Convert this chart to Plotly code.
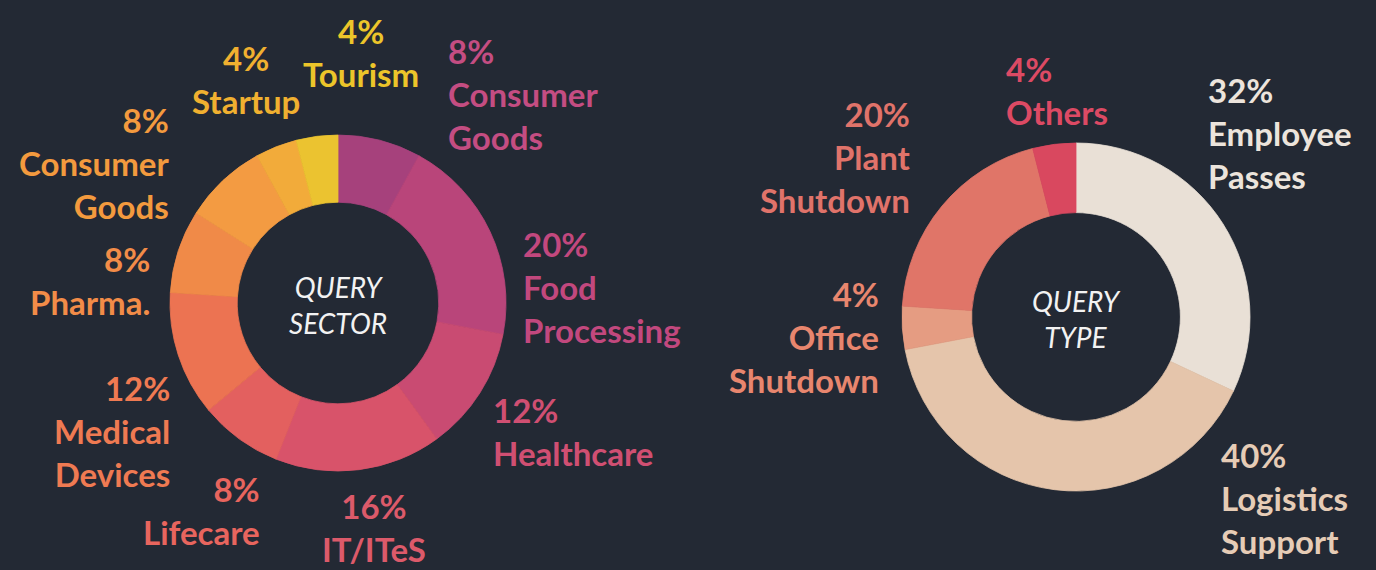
import math
import plotly.graph_objects as go

# ---------------- data ----------------
sector_labels = ["Consumer<br>Goods", "Food<br>Processing", "Healthcare", "IT/ITeS", "Lifecare",
                 "Medical<br>Devices", "Pharma.", "Consumer<br>Goods", "Startup", "Tourism"]
sector_values = [8, 20, 12, 16, 8, 12, 8, 8, 4, 4]

type_labels = ["Employee<br>Passes", "Logistics<br>Support", "Office<br>Shutdown", "Plant<br>Shutdown", "Others"]
type_values = [32, 40, 4, 20, 4]

# ---------------- styles ----------------
W, H = 1376, 570
BG = "#232934"
sector_colors = ["#a6417c", "#b9457a", "#c94b72", "#d8536a", "#e3605f",
                 "#ec7352", "#f08a48", "#f39b42", "#f2ab3a", "#ebc330"]
sector_text_colors = ["#c44d82", "#c2487e", "#d04f72", "#dc5a6a", "#e8655e",
                      "#ef7a52", "#f28c48", "#f39a3e", "#f0b030", "#ecc52a"]
type_colors = ["#e9e0d6", "#e5c5ab", "#e59c82", "#e07568", "#d9485f"]
type_text_colors = ["#ece4dc", "#e6ccb6", "#e8866e", "#e0736a", "#dc4a64"]

# donut geometry in pixels: center x, center y, radius
LEFT = dict(cx=338, cy=303, r=168)
RIGHT = dict(cx=1076, cy=317, r=174)

# label anchor styles and fine-tuning shifts (px) relative to slice mid-angle point on rim
sector_anchor = ["left", "left", "left", "center", "right", "right", "right", "right", "center", "center"]
sector_shift = [(66, -46), (31, 56), (11, 38), (15, 58), (23, 72), (-6, 76), (-26, 29), (-52, -18), (-30, -67), (44, -84)]
type_anchor = ["left", "left", "right", "right", "left"]
type_shift = [(-17, -91), (165, 8), (-21, 9), (-29, -49), (-50, -54)]

LABEL_FONT = dict(family="Lato", size=33, weight=700)
CENTER_FONT = dict(family="Lato", size=28, color="#f2f2f2", style="italic")


def domain(g):
    return dict(x=[(g["cx"] - g["r"]) / W, (g["cx"] + g["r"]) / W],
                y=[(H - g["cy"] - g["r"]) / H, (H - g["cy"] + g["r"]) / H])


def labels_for(values, labels, colors, anchors, shifts, g):
    anns = []
    total = sum(values)
    cum = 0
    for v, lab, col, anc, (dx, dy) in zip(values, labels, colors, anchors, shifts):
        mid = (cum + v / 2) / total * 2 * math.pi
        cum += v
        px = g["cx"] + g["r"] * math.sin(mid) + dx
        py = g["cy"] - g["r"] * math.cos(mid) + dy
        anns.append(dict(x=px / W, y=1 - py / H, xref="paper", yref="paper",
                         text=f"{v}%<br>{lab}", showarrow=False, xanchor=anc, yanchor="middle",
                         align=anc, font=dict(color=col, **LABEL_FONT)))
    return anns


fig = go.Figure()
fig.add_trace(go.Pie(values=sector_values, labels=[f"s{i}" for i in range(len(sector_values))],
                     marker=dict(colors=sector_colors, line=dict(width=0.8, color=sector_colors)),
                     hole=0.6, sort=False, direction="clockwise", rotation=0,
                     textinfo="none", hoverinfo="skip", domain=domain(LEFT), showlegend=False))
fig.add_trace(go.Pie(values=type_values, labels=[f"t{i}" for i in range(len(type_values))],
                     marker=dict(colors=type_colors, line=dict(width=0.8, color=type_colors)),
                     hole=0.6, sort=False, direction="clockwise", rotation=0,
                     textinfo="none", hoverinfo="skip", domain=domain(RIGHT), showlegend=False))

anns = labels_for(sector_values, sector_labels, sector_text_colors, sector_anchor, sector_shift, LEFT)
anns += labels_for(type_values, type_labels, type_text_colors, type_anchor, type_shift, RIGHT)
for g, t in [(LEFT, "QUERY<br>SECTOR"), (RIGHT, "QUERY<br>TYPE")]:
    anns.append(dict(x=g["cx"] / W, y=1 - (g["cy"] + 2) / H, xref="paper", yref="paper",
                     text=t, showarrow=False, xanchor="center", yanchor="middle",
                     align="center", font=CENTER_FONT))

fig.update_layout(width=W, height=H, margin=dict(l=0, r=0, t=0, b=0),
                  paper_bgcolor=BG, plot_bgcolor=BG, annotations=anns, showlegend=False)
fig.write_html("out.html")
